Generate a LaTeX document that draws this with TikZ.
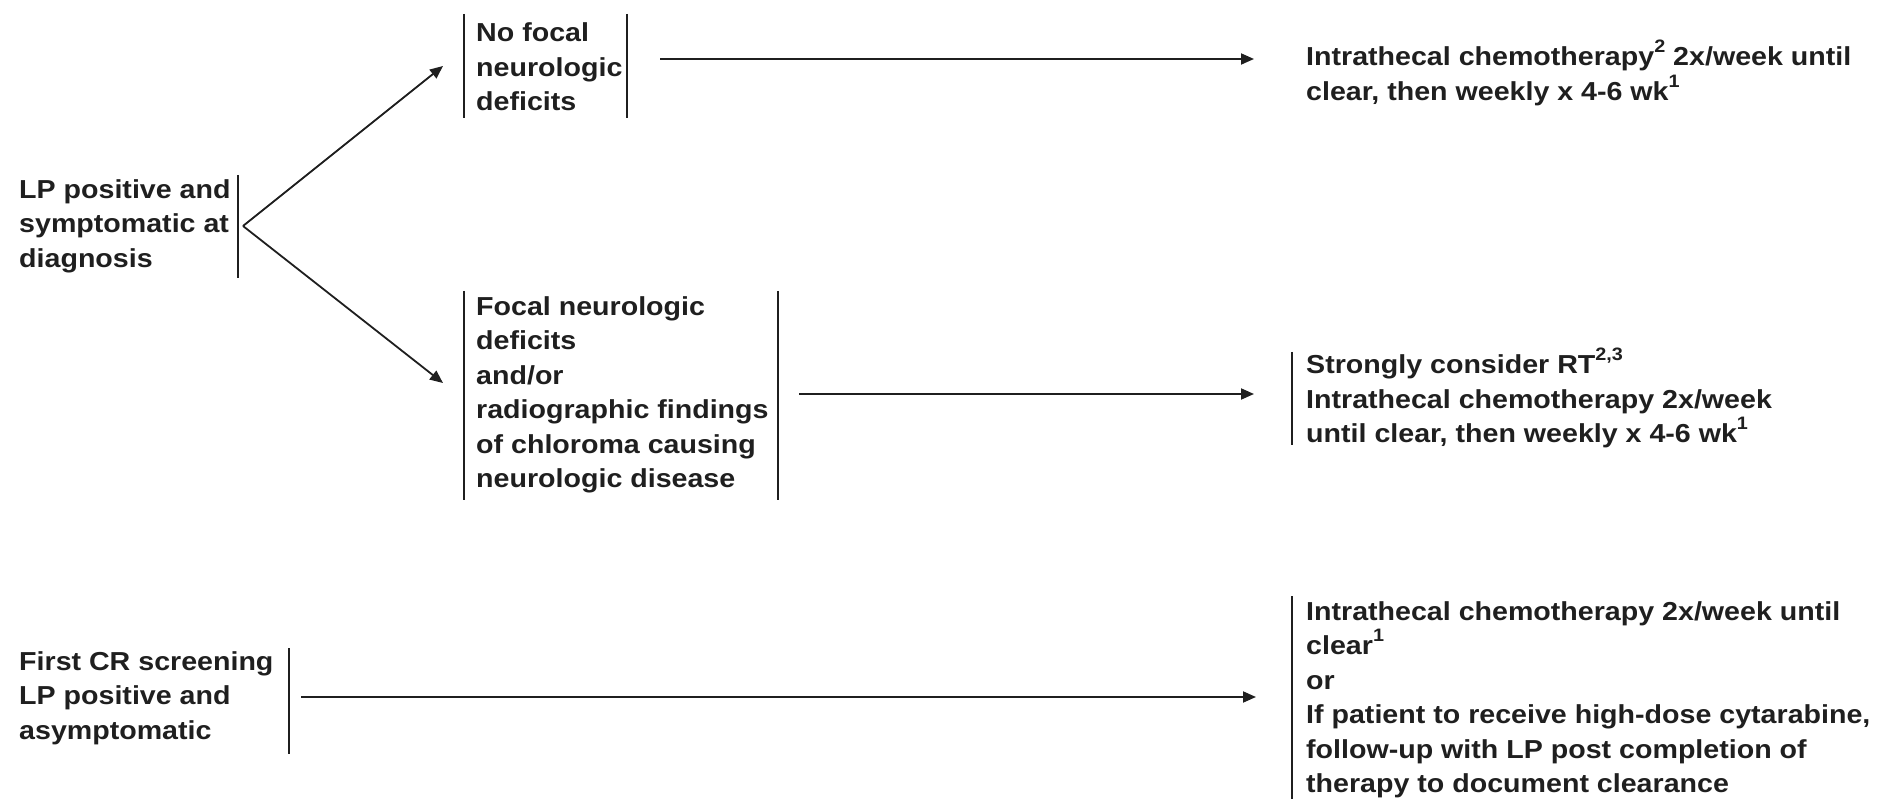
\documentclass[tikz,border=0pt]{standalone}
\usepackage{fontspec}
\setmainfont{Liberation Sans}[FakeStretch=1.1]
\usetikzlibrary{arrows.meta}
\newcommand{\sups}[1]{\raisebox{0.5em}{\fontsize{18}{18}\selectfont #1}}
\tikzset{
  txt/.style={inner sep=0pt, align=left, font=\fontsize{26}{34.5}\selectfont\bfseries, text=black!88},
  bar/.style={line width=1.9pt, black!88},
  arr/.style={line width=1.8pt, black!88, -{Triangle[length=13pt,width=11pt]}},
}
\begin{document}
\begin{tikzpicture}[x=1pt,y=-1pt]
\useasboundingbox (0,0) rectangle (1888,799);
% left nodes
\node[txt, anchor=west] (root) at (19,226) {LP positive and\\symptomatic at\\diagnosis};
\node[txt, anchor=west] (first) at (19,698) {First CR screening\\LP positive and\\asymptomatic};
\node[txt, anchor=west] (nofocal) at (476,67) {No focal\\neurologic\\deficits};
\node[txt, anchor=west] (focal) at (476,395) {Focal neurologic\\deficits\\and/or\\radiographic findings\\of chloroma causing\\neurologic disease};
\node[txt, anchor=north west] (r1) at (1306,40) {Intrathecal chemotherapy\sups{2} 2x/week until\\clear, then weekly x 4-6 wk\sups{1}};
\node[txt, anchor=west] (r2) at (1306,398) {Strongly consider RT\sups{2,3}\\Intrathecal chemotherapy 2x/week\\until clear, then weekly x 4-6 wk\sups{1}};
\node[txt, anchor=west] (r3) at (1306,700) {Intrathecal chemotherapy 2x/week until\\clear\sups{1}\\or\\If patient to receive high-dose cytarabine,\\follow-up with LP post completion of\\therapy to document clearance};
% bars
\draw[bar] (238,175) -- (238,278);
\draw[bar] (289,648) -- (289,754);
\draw[bar] (464,14) -- (464,118);
\draw[bar] (627,14) -- (627,118);
\draw[bar] (464,291) -- (464,500);
\draw[bar] (778,291) -- (778,500);
\draw[bar] (1292,352) -- (1292,445);
\draw[bar] (1292,596) -- (1292,799);
% connectors
\coordinate (rootout) at (243,226);
\coordinate (nfin) at (443,66);
\coordinate (fin) at (443,383);
\coordinate (nfout) at (660,59);
\coordinate (r1in) at (1254,59);
\coordinate (fout) at (799,394);
\coordinate (r2in) at (1254,394);
\coordinate (firstout) at (301,697);
\coordinate (r3in) at (1256,697);
\draw[arr] (rootout) -- (nfin);
\draw[arr] (rootout) -- (fin);
\draw[arr] (nfout) -- (r1in);
\draw[arr] (fout) -- (r2in);
\draw[arr] (firstout) -- (r3in);
\end{tikzpicture}
\end{document}
